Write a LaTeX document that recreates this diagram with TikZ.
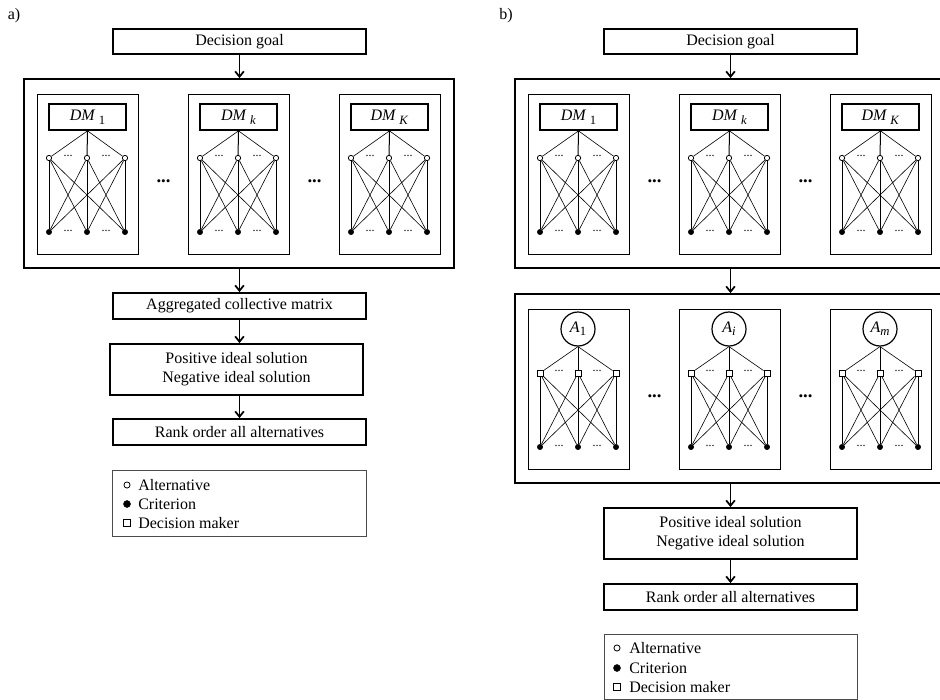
\documentclass[tikz,border=0pt]{standalone}
\usepackage{fontspec}
\setmainfont{Liberation Serif}
\usetikzlibrary{arrows.meta}
\newcommand{\mainfs}{\fontsize{12}{14.25}\selectfont}
% \rbox[style]{name}{x1}{y1}{x2}{y2}{text}
\newcommand{\rbox}[7][]{\node[#1, minimum width={(#5-#3)*0.75pt}, minimum height={(#6-#4)*0.75pt}] (#2) at ({(#3+#5)/2},{(#4+#6)/2}) {#7};}
\newcommand{\dmlab}[1]{\textit{DM}\hspace{2.5pt}\raisebox{-3pt}{\fontsize{9.5}{9.5}\selectfont #1}}
\newcommand{\alab}[1]{\textit{A}\raisebox{-2.5pt}{\fontsize{9.5}{9.5}\selectfont #1}}
% body of a network group: #1 x, #2 y, #3 prefix, #4 style of top markers
\newcommand{\netbody}[4]{%
  \foreach \i/\dx in {1/12,2/50,3/88}{
    \node[#4] (#3t\i) at ({#1+\dx},{#2+64}) {};
    \node[crit] (#3b\i) at ({#1+\dx},{#2+138}) {};
  }
  \foreach \i in {1,2,3}{
    \ifnum\i=2 \draw[vline] (#3h.south) -- (#3t\i); \else \draw[dline] (#3h.south) -- (#3t\i); \fi
    \foreach \j in {1,2,3}{
      \ifnum\i=\j \draw[vline] (#3t\i) -- (#3b\j); \else \draw[dline] (#3t\i) -- (#3b\j); \fi
    }
  }
  \node[sdots] (#3d1) at ({#1+31},{#2+62}) {...};
  \node[sdots] (#3d2) at ({#1+69},{#2+62}) {...};
  \node[sdots] (#3d3) at ({#1+31},{#2+137}) {...};
  \node[sdots] (#3d4) at ({#1+69},{#2+137}) {...};
}
\newcommand{\dmgroup}[4]{%
  \node[inbox, minimum width=75.75pt, minimum height=120pt] (#3) at ({#1+50.5},{#2+80}) {};
  \node[lab, minimum width=57.75pt, minimum height=19.5pt] (#3h) at ({#1+50.5},{#2+23}) {#4};
  \netbody{#1}{#2}{#3}{alt}
}
\newcommand{\altgroup}[4]{%
  \node[inbox, minimum width=75.75pt, minimum height=120pt] (#3) at ({#1+50.5},{#2+80}) {};
  \node[acirc] (#3h) at ({#1+50},{#2+20}) {#4};
  \netbody{#1}{#2}{#3}{dmk}
}
\tikzset{
  flowbox/.style={draw, line width=1.4pt, inner sep=0pt, align=center, font=\mainfs},
  bigbox/.style={draw, line width=1.4pt, inner sep=0pt},
  inbox/.style={draw, line width=0.7pt, inner sep=0pt},
  lab/.style={draw, line width=1.3pt, inner sep=0pt, font=\mainfs},
  acirc/.style={circle, draw, line width=0.9pt, minimum size=25.5pt, inner sep=0pt, font=\mainfs},
  alt/.style={circle, draw, fill=white, line width=0.6pt, minimum size=4pt, inner sep=0pt},
  crit/.style={circle, draw, fill=black, line width=0.4pt, minimum size=4pt, inner sep=0pt},
  dmk/.style={rectangle, draw, fill=white, line width=0.7pt, minimum size=4.5pt, inner sep=0pt},
  vline/.style={line width=0.75pt},
  dline/.style={line width=0.45pt},
  sdots/.style={font=\fontsize{9}{9}\selectfont, inner sep=0pt},
  bdots/.style={font=\fontsize{14}{14}\selectfont\bfseries, inner sep=0pt},
  arr/.style={line width=1.3pt, -{Straight Barb[length=4pt,width=6.5pt]}},
  legbox/.style={draw=black!70, line width=0.7pt, inner sep=0pt},
  legtxt/.style={anchor=west, inner sep=0pt, font=\mainfs},
  panel/.style={font=\mainfs, inner sep=0pt},
}
\begin{document}
\begin{tikzpicture}[x=0.75pt, y=-0.75pt]
\useasboundingbox (0,0) rectangle (940,700);
\clip (0,0) rectangle (940,700);
\fill[white] (0,0) rectangle (940,700);

% ---------------- panel a ----------------
\node[panel] (pa) at (14,16) {a)};
\rbox[flowbox]{goalA}{113}{29}{366}{54}{Decision goal}
\rbox[bigbox]{bigA}{24}{79}{454}{268}{}
\dmgroup{37}{94}{aa}{\dmlab{1}}
\dmgroup{188}{94}{ab}{\dmlab{\textit{k}}}
\dmgroup{339}{94}{ac}{\dmlab{\textit{K}}}
\node[bdots] (aD1) at (163.5,181) {...};
\node[bdots] (aD2) at (314.5,181) {...};
\rbox[flowbox]{aggA}{113}{293}{366}{319}{Aggregated collective matrix}
\rbox[flowbox]{posA}{110}{344}{363}{395}{Positive ideal solution\\Negative ideal solution}
\rbox[flowbox]{rankA}{113}{419}{366}{445}{Rank order all alternatives}
\draw[arr] (goalA) -- (goalA |- bigA.north);
\draw[arr] (aggA.north |- bigA.south) -- (aggA.north);
\draw[arr] (aggA) -- (aggA |- posA.north);
\draw[arr] (rankA.north |- posA.south) -- (rankA.north);
% legend a
\rbox[legbox]{legA}{112}{470}{366}{536}{}
\node[alt, minimum size=4.6pt] (legAm1) at (127,485) {};
\node[crit, minimum size=5.2pt] (legAm2) at (127,504) {};
\node[dmk, minimum size=5.2pt] (legAm3) at (127,523) {};
\node[legtxt] (legAt1) at (138,485) {Alternative};
\node[legtxt] (legAt2) at (138,504) {Criterion};
\node[legtxt] (legAt3) at (138,523) {Decision maker};

% ---------------- panel b ----------------
\node[panel] (pb) at (506,16) {b)};
\rbox[flowbox]{goalB}{604}{29}{857}{54}{Decision goal}
\rbox[bigbox]{bigB}{515}{79}{945}{268}{}
\dmgroup{528}{94}{ba}{\dmlab{1}}
\dmgroup{679}{94}{bb}{\dmlab{\textit{k}}}
\dmgroup{830}{94}{bc}{\dmlab{\textit{K}}}
\node[bdots] (bD1) at (654.5,181) {...};
\node[bdots] (bD2) at (805.5,181) {...};
\rbox[bigbox]{bigC}{515}{294}{945}{483}{}
\altgroup{528}{309}{ca}{\alab{1}}
\altgroup{679}{309}{cb}{\alab{\textit{i}}}
\altgroup{830}{309}{cc}{\alab{\textit{m}}}
\node[bdots] (cD1) at (654.5,396) {...};
\node[bdots] (cD2) at (805.5,396) {...};
\rbox[flowbox]{posB}{604}{508}{857}{559}{Positive ideal solution\\Negative ideal solution}
\rbox[flowbox]{rankB}{604}{584}{857}{610}{Rank order all alternatives}
\draw[arr] (goalB) -- (goalB |- bigB.north);
\draw[arr] (goalB.south |- bigB.south) -- (goalB.south |- bigC.north);
\draw[arr] (posB.north |- bigC.south) -- (posB.north);
\draw[arr] (posB) -- (posB |- rankB.north);
% legend b
\rbox[legbox]{legB}{604}{634}{857}{699}{}
\node[alt, minimum size=4.6pt] (legBm1) at (617,648) {};
\node[crit, minimum size=5.2pt] (legBm2) at (617,668) {};
\node[dmk, minimum size=5.2pt] (legBm3) at (617,687) {};
\node[legtxt] (legBt1) at (629,648) {Alternative};
\node[legtxt] (legBt2) at (629,668) {Criterion};
\node[legtxt] (legBt3) at (629,687) {Decision maker};
\end{tikzpicture}
\end{document}
